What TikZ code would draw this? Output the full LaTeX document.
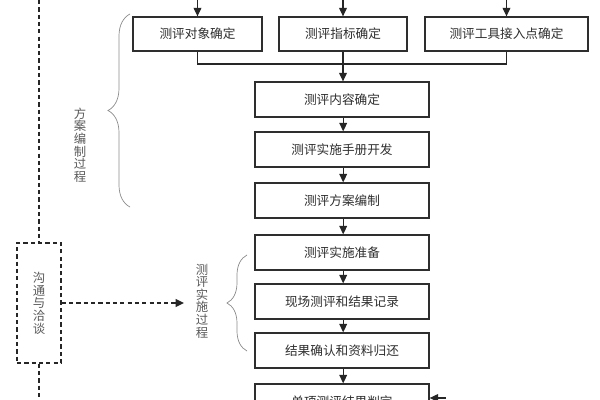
\documentclass[tikz,border=0pt]{standalone}
\usepackage{fontspec}
\newfontfamily\cjk{Noto Sans CJK SC}
\usetikzlibrary{arrows.meta,decorations.pathreplacing}
\begin{document}
\begin{tikzpicture}[x=0.025cm,y=-0.025cm,
  every node/.style={font=\cjk\fontsize{9}{9}\selectfont,text=black!82},
  box/.style={draw=black!82,line width=0.9pt,rectangle,inner sep=0pt,minimum height=0.875cm,minimum width=4.35cm},
  topbox/.style={box,minimum height=0.85cm},
  arr/.style={line width=0.8pt,draw=black!85,-{Triangle[length=6pt,width=5.5pt]}},
  conn/.style={line width=0.8pt,draw=black!85},
  dline/.style={line width=1.1pt,draw=black!85,dash pattern=on 3pt off 2.2pt},
  vtext/.style={align=center,font=\cjk\fontsize{8.8}{9}\selectfont,text=black!65},
  brc/.style={draw=black!45,line width=0.5pt,decorate,decoration={brace,amplitude=#1}}
]
\useasboundingbox (0,0) rectangle (600,400);
\clip (0,0) rectangle (600,400);
% top boxes
\node[topbox,minimum width=3.225cm] (t1) at (197.5,34) {测评对象确定};
\node[topbox,minimum width=3.2cm] (t2) at (343,34) {测评指标确定};
\node[topbox,minimum width=4.075cm] (t3) at (506.5,34) {测评工具接入点确定};
\coordinate (i1) at (197.5,-2);
\coordinate (i2) at (343,-2);
\coordinate (i3) at (506.5,-2);
\draw[arr] (i1) -- (t1.north);
\draw[arr] (i2) -- (t2.north);
\draw[arr] (i3) -- (t3.north);
% main column
\node[box] (b1) at (342,99.5) {测评内容确定};
\node[box] (b2) at (342,149.5) {测评实施手册开发};
\node[box] (b3) at (342,200.5) {测评方案编制};
\node[box] (b4) at (342,252.5) {测评实施准备};
\node[box] (b5) at (342,301.5) {现场测评和结果记录};
\node[box] (b6) at (342,350.5) {结果确认和资料归还};
\node[box] (b7) at (342,401.5) {单项测评结果判定};
\coordinate (j) at (343,64);
\draw[conn] (t1.south) |- (j) -| (t3.south);
\draw[arr] (t2.south) -- (t2.south |- b1.north);
\foreach \a/\b in {b1/b2,b2/b3,b3/b4,b4/b5,b5/b6,b6/b7}{
  \draw[arr] ([xshift=0.03cm]\a.south) -- ([xshift=0.03cm]\b.north);
}
\coordinate (s) at (446,398);
\draw[arr] (s) -- (b7.east |- s);
% communication box
\node[draw=black!85,line width=1.1pt,dash pattern=on 3pt off 2.2pt,minimum width=1.1cm,minimum height=3cm,inner sep=0pt,vtext] (c) at (39,303) {沟\\通\\与\\洽\\谈};
\coordinate (ctop) at (39,0);
\coordinate (cbot) at (39,400);
\draw[dline] (ctop) -- (c.north);
\draw[dline] (c.south) -- (cbot);
\coordinate (ce) at (184,303);
\draw[dline,-{Triangle[length=6pt,width=5.5pt]}] (c.east) -- (ce);
% labels and braces
\node[vtext] (l1) at (80,145) {方\\案\\编\\制\\过\\程};
\node[vtext] (l2) at (202,301) {测\\评\\实\\施\\过\\程};
\coordinate (br1a) at (130,207);
\coordinate (br1b) at (130,14);
\draw[brc=0.55cm] (br1a) -- (br1b);
\coordinate (br2a) at (247,351);
\coordinate (br2b) at (247,255);
\draw[brc=0.5cm] (br2a) -- (br2b);
\end{tikzpicture}
\end{document}
